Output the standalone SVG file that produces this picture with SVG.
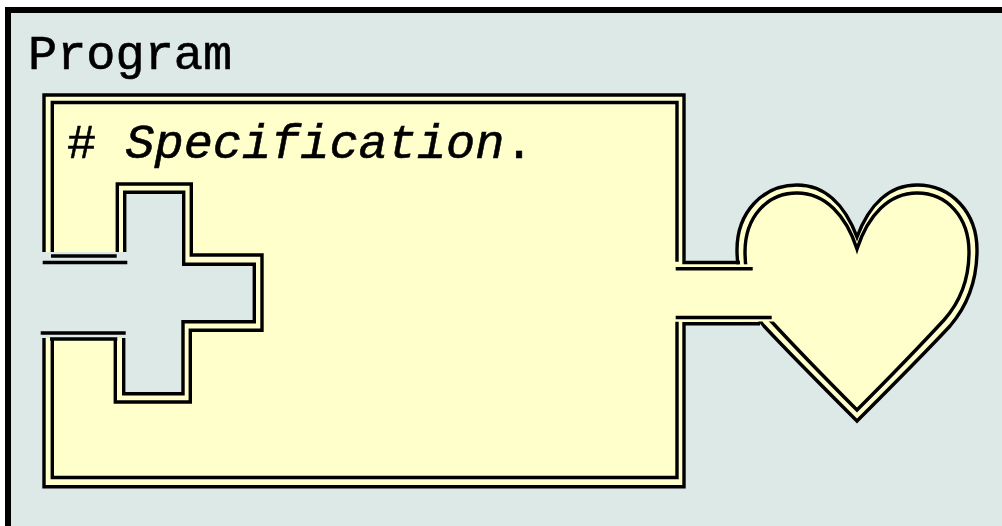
<svg xmlns="http://www.w3.org/2000/svg" width="1002" height="526" viewBox="0 0 1002 526">
<style>
.ln{fill:none;stroke:#000;stroke-width:3.4;stroke-linecap:butt;stroke-linejoin:miter}
.yf{fill:#ffffcc;stroke:none}
.t{font-family:"Liberation Mono","DejaVu Sans Mono",monospace;font-size:48.6px;fill:#000;stroke:#000;stroke-width:0.6}
</style>
<g id="program">
<rect x="8" y="10" width="1000" height="519" fill="#dde9e7" stroke="#000" stroke-width="6"/>
<text class="t" x="28" y="69">Program</text>
</g>
<g id="specification">
<path class="yf" d="M44,95 H684 V262.5 H740 V323.7 H684 V487 H44 V338 H123.7 V393.7 H183 V321.7 H254.3 V264.3 H183.7 V192.3 H124.7 V252 H44 Z"/>
<path class="yf" d="M857,237 C845,205 825,185 797,185 C763,185 737,212 737,250 C737,280 746,305 764,326 C790,354 828,392 857,421 C886,392 924,354 950,326 C968,305 977,280 977,250 C977,212 951,185 917,185 C889,185 869,205 857,237 Z"/>
<path class="ln" d="M857,237 C845,205 825,185 797,185 C763,185 737,212 737,250 C737,280 746,305 764,326 C790,354 828,392 857,421 C886,392 924,354 950,326 C968,305 977,280 977,250 C977,212 951,185 917,185 C889,185 869,205 857,237 Z"/>
<path class="ln" d="M857,249 C846,215 825,193 797,193 C767,193 745,217 745,252 C745,280 754,302 770,320 C795,347 830,383 857,410 C884,383 919,347 944,320 C960,302 969,280 969,252 C969,217 947,193 917,193 C889,193 868,215 857,249 Z"/>
<rect class="yf" x="686" y="264.3" width="90" height="57.2"/>
<path class="ln" d="M44,252 V95 H684 V262.5 H740"/>
<path class="ln" d="M760,323.7 H684 V486.7 H44 V338"/>
<path class="ln" d="M52.3,252 V102.5 H677 V261.7"/>
<path class="ln" d="M677,321.7 V477.5 H52.3 V338"/>
<path class="ln" d="M675.7,268.7 H752.7 M675.7,317.5 H771.7"/>
<path class="ln" d="M42.7,262.5 H127.3 M40.7,333 H125.7 M51,256 H116.7 M50,339 H117.3"/>
<path class="ln" d="M124.7,252 V192.3 H183.7 V264.3 H254.3 V321.7 H183 V393.7 H123.7 V338"/>
<path class="ln" d="M117.3,252 V184 H191.3 V255 H262 V330.3 H190.3 V402 H115.3 V338"/>
<text class="t" x="67" y="158">#<tspan font-style="italic"> Specification</tspan>.</text>
</g>
</svg>
